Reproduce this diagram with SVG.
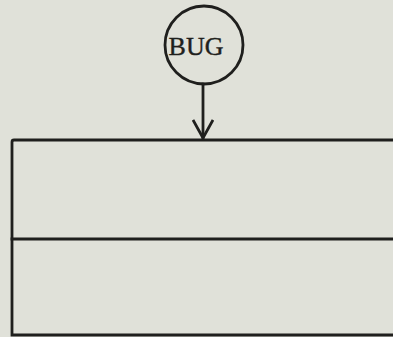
<svg xmlns="http://www.w3.org/2000/svg" width="393" height="337" viewBox="0 0 393 337">
  <defs>
    <style>
      .ln { fill: none; stroke: #1f1f1d; stroke-width: 2.8; stroke-linecap: square; }
      .lbl { font-family: "Liberation Serif", serif; font-size: 26px; fill: #1f1f1d; stroke: #1f1f1d; stroke-width: 0.4; }
    </style>
    <marker id="vee" viewBox="0 0 22 22" refX="20" refY="11" markerWidth="22" markerHeight="22" markerUnits="userSpaceOnUse" orient="auto">
      <path d="M2 1 L20 11 L2 21" fill="none" stroke="#1f1f1d" stroke-width="2.8"/>
    </marker>
  </defs>
  <rect width="393" height="337" fill="#e0e1d9"/>

  <g id="bug">
    <circle class="ln" cx="204" cy="45" r="39"/>
    <text class="lbl" x="196" y="55" text-anchor="middle">BUG</text>
  </g>

  <g id="table">
    <path class="ln" d="M395 140 H14 Q12 140 12 142 V335 H395"/>
    <path class="ln" d="M12 239 H395"/>
  </g>

  <g id="connectors">
    <path class="ln" d="M203 84 V138" marker-end="url(#vee)"/>
  </g>
</svg>
